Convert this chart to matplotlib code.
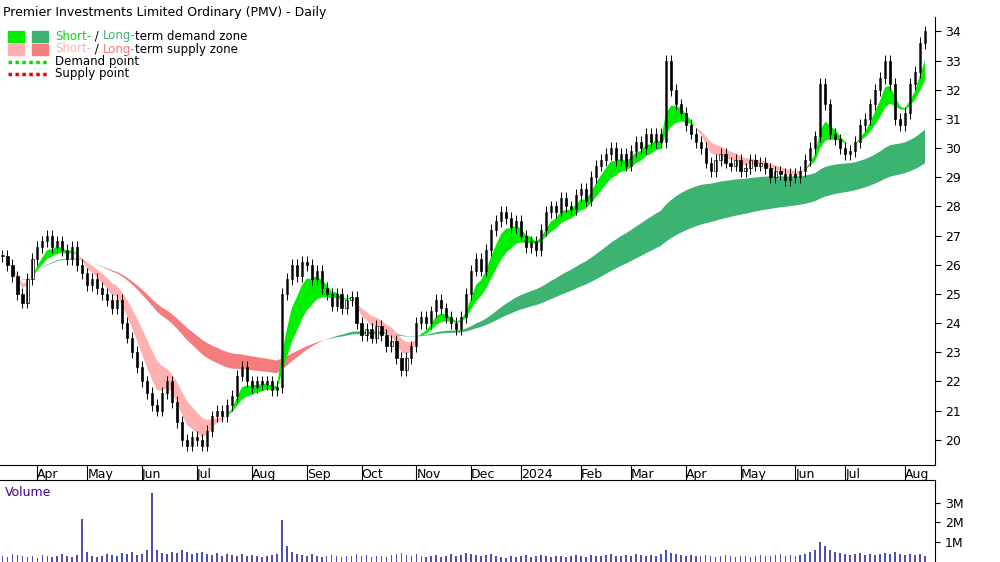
import numpy as np
import pandas as pd
from matplotlib import pyplot as plt
from matplotlib.patches import Rectangle

# closing prices, one bar per two trading days
closes = [
    26.3, 26.0, 25.6, 25.0, 24.7, 25.5, 26.2, 26.6, 26.8, 27.0,
    26.6, 26.8, 26.5, 26.2, 26.6, 26.0, 25.7, 25.3, 25.5, 25.2,
    25.0, 24.8, 24.5, 24.8, 24.0, 23.5, 23.0, 22.5, 22.0, 21.6,
    21.2, 21.0, 21.6, 22.0, 21.3, 20.6, 20.0, 19.8, 20.1, 20.0,
    19.8, 20.3, 20.8, 21.0, 20.8, 21.2, 21.5, 22.2, 22.5, 22.0,
    21.8, 22.0, 21.9, 22.0, 21.7, 21.8, 25.0, 25.5, 26.0, 25.6,
    26.1, 26.0, 25.5, 25.8, 25.2, 25.0, 24.6, 25.0, 24.5, 24.8,
    24.9, 24.0, 23.6, 23.8, 23.5, 23.9, 23.6, 23.2, 23.4, 22.8,
    22.4, 22.8, 23.2, 24.0, 24.2, 24.0, 24.4, 24.8, 24.5, 24.2,
    24.0, 23.8, 24.2, 25.0, 25.8, 26.2, 25.8, 26.5, 27.2, 27.5,
    27.8, 27.6, 27.3, 27.5, 27.0, 26.6, 26.8, 26.5, 27.2, 27.8,
    28.0, 27.8, 28.3, 28.0, 27.9, 28.4, 28.6, 28.2, 29.0, 29.4,
    29.6, 29.8, 30.0, 29.6, 29.8, 29.4, 29.9, 30.2, 30.0, 30.5,
    30.2, 30.5, 30.2, 33.0, 32.0, 31.5, 31.2, 30.8, 30.5, 30.2,
    30.0, 29.5, 29.2, 29.6, 29.8, 29.5, 29.4, 29.6, 29.2, 29.3,
    29.6, 29.4, 29.5, 29.3, 29.0, 29.2, 29.1, 28.9, 29.1, 29.0,
    29.2, 29.6, 30.0, 30.4, 32.2, 31.5, 30.5, 30.3, 30.0, 29.8,
    29.9, 30.2, 30.8, 31.0, 31.5, 32.0, 32.4, 33.0, 32.2, 31.0,
    30.8, 31.2, 32.2, 32.6, 33.6, 34.0,
]
# volume in millions
volumes = [
    0.3, 0.25, 0.4, 0.35, 0.3, 0.25, 0.3, 0.2, 0.35, 0.3,
    0.25, 0.3, 0.4, 0.3, 0.25, 0.35, 2.2, 0.5, 0.3, 0.25,
    0.3, 0.4, 0.35, 0.3, 0.45, 0.4, 0.5, 0.35, 0.4, 0.6,
    3.5, 0.6, 0.45, 0.4, 0.5, 0.45, 0.6, 0.5, 0.4, 0.45,
    0.5, 0.4, 0.35, 0.45, 0.3, 0.4, 0.35, 0.3, 0.4, 0.3,
    0.35, 0.3, 0.25, 0.3, 0.35, 0.4, 2.1, 0.8, 0.5, 0.4,
    0.35, 0.3, 0.4, 0.3, 0.25, 0.3, 0.35, 0.3, 0.25, 0.3,
    0.3, 0.4, 0.3, 0.35, 0.25, 0.3, 0.3, 0.25, 0.35, 0.4,
    0.45, 0.35, 0.3, 0.4, 0.3, 0.25, 0.3, 0.35, 0.25, 0.3,
    0.4, 0.3, 0.35, 0.45, 0.4, 0.35, 0.3, 0.35, 0.4, 0.3,
    0.25, 0.2, 0.3, 0.25, 0.3, 0.35, 0.25, 0.3, 0.35, 0.3,
    0.25, 0.3, 0.3, 0.25, 0.3, 0.35, 0.3, 0.25, 0.35, 0.3,
    0.3, 0.35, 0.4, 0.3, 0.3, 0.35, 0.3, 0.4, 0.35, 0.3,
    0.35, 0.3, 0.4, 0.6, 0.45, 0.4, 0.35, 0.3, 0.35, 0.3,
    0.3, 0.35, 0.3, 0.25, 0.3, 0.35, 0.3, 0.25, 0.3, 0.3,
    0.25, 0.3, 0.35, 0.3, 0.3, 0.35, 0.4, 0.3, 0.35, 0.3,
    0.35, 0.4, 0.5, 0.6, 1.0, 0.8, 0.6, 0.5, 0.45, 0.4,
    0.35, 0.4, 0.45, 0.35, 0.4, 0.35, 0.4, 0.45, 0.4, 0.5,
    0.4, 0.35, 0.4, 0.35, 0.4, 0.3,
]
dates = pd.bdate_range('2023-03-15', periods=2 * len(closes))[::2]

c = pd.Series(closes)
short_fast = c.ewm(span=5).mean()
short_slow = c.ewm(span=11).mean()
long_fast = c.ewm(span=50).mean()
long_slow = c.ewm(span=95).mean()

fig = plt.figure(figsize=(10, 5.62), dpi=100)
ax = fig.add_axes([0, 0.173, 0.935, 0.797])
axv = fig.add_axes([0, 0, 0.935, 0.146], sharex=ax)
x = np.arange(len(closes))

# zones
up = (long_fast >= long_slow).values
ax.fill_between(x, long_fast, long_slow, where=up, color='#3cb371', lw=0, interpolate=True)
ax.fill_between(x, long_fast, long_slow, where=~up, color='#f47c7c', lw=0, interpolate=True)
up = (short_fast >= short_slow).values
ax.fill_between(x, short_fast, short_slow, where=up, color='#00ee00', lw=0, interpolate=True)
ax.fill_between(x, short_fast, short_slow, where=~up, color='#ffb0b0', lw=0, interpolate=True)

# candles
opens = [closes[0]] + closes[:-1]
for i, (o, cl) in enumerate(zip(opens, closes)):
    hi = max(o, cl) + 0.2
    lo = min(o, cl) - 0.2
    ax.vlines(i, lo, hi, color='black', lw=0.7)
    ax.add_patch(Rectangle((i - 0.22, min(o, cl)), 0.44, max(abs(cl - o), 0.05),
                           facecolor='white' if cl >= o else 'black', edgecolor='black', lw=0.5))

ax.set_ylim(19.14, 34.5)
ax.set_xlim(-0.5, 187)
ax.yaxis.tick_right()
ax.set_yticks(range(20, 35))
ax.tick_params(axis='y', labelsize=9, length=4, direction='out')
for s in ['top', 'left']:
    ax.spines[s].set_visible(False)

months = dates.to_period('M')
ticks = [i for i in range(1, len(dates)) if months[i] != months[i - 1]]
labels = ['2024' if dates[i].month == 1 else dates[i].strftime('%b') for i in ticks]
ax.set_xticks(ticks)
ax.set_xticklabels(labels, ha='left', fontsize=9)
ax.tick_params(axis='x', length=12, direction='out', pad=-10)

axv.bar(x, volumes, width=0.35, color='#5050b0')
axv.set_ylim(0, 4.15)
axv.yaxis.tick_right()
axv.set_yticks([1, 2, 3])
axv.set_yticklabels(['1M', '2M', '3M'], fontsize=9)
axv.tick_params(axis='x', labelbottom=False, length=0)
for s in ['left', 'bottom']:
    axv.spines[s].set_visible(False)
axv.text(0.005, 0.93, 'Volume', transform=axv.transAxes, color='#4b0082', fontsize=9, va='top')

fig.text(0.003, 0.99, 'Premier Investments Limited Ordinary (PMV) - Daily', fontsize=9, va='top')
# legend
for k, (c1, c2) in enumerate([('#00ee00', '#3cb371'), ('#ffb0b0', '#f47c7c')]):
    y0 = 1 - (37 + 13 * k) / 562
    fig.patches.append(Rectangle((0.008, y0 - 0.009), 0.016, 0.019, color=c1, transform=fig.transFigure))
    fig.patches.append(Rectangle((0.032, y0 - 0.009), 0.016, 0.019, color=c2, transform=fig.transFigure))
tx = 0.055
rend = fig.canvas.get_renderer()
for k, (col1, col2, rest) in enumerate([('#00dd00', '#3cb371', 'term demand zone'),
                                        ('#ffb0b0', '#f47c7c', 'term supply zone')]):
    y0 = 1 - (36 + 13 * k) / 562
    xx = tx
    for word, col in [('Short-', col1), (' / ', 'black'), ('Long-', col2), (rest, 'black')]:
        t = fig.text(xx, y0, word, color=col, fontsize=8.5, va='center')
        xx = t.get_window_extent(rend).x1 / 1000
for k, (col, name) in enumerate([('#00dd00', 'Demand point'), ('#ee0000', 'Supply point')]):
    y0 = 1 - (62 + 12 * k) / 562
    fig.lines.append(plt.Line2D([0.008, 0.048], [y0, y0], color=col, lw=2.5, ls=(0, (1, 1)),
                                transform=fig.transFigure))
    fig.text(tx, y0, name, fontsize=8.5, va='center')

fig.savefig('out.png', dpi=100)
